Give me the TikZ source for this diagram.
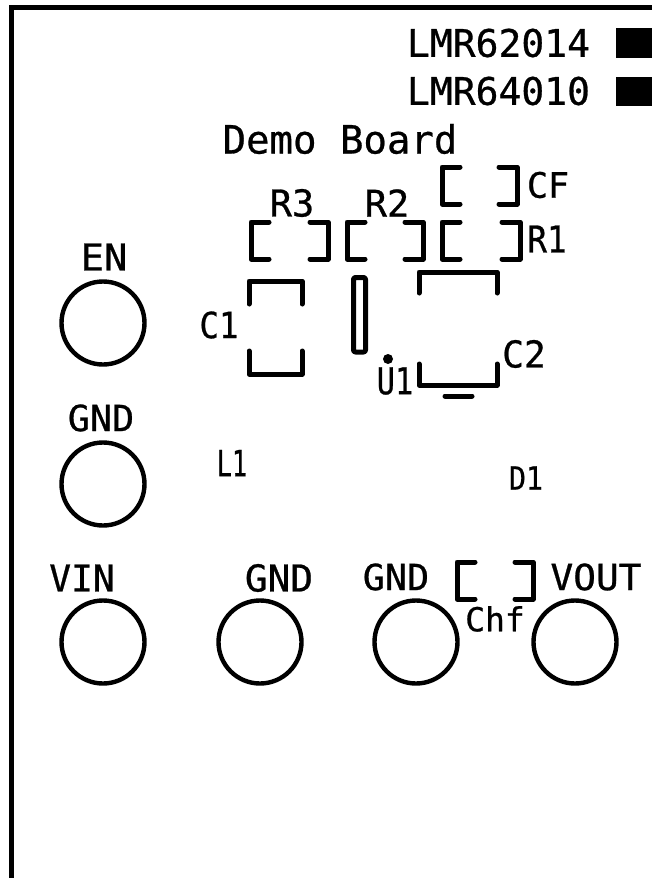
\documentclass[tikz,border=0pt]{standalone}
\usepackage{graphicx}
\usepackage{fontspec}
\setmainfont[BoldFont={DejaVu Sans Mono},BoldFeatures={FakeBold=0.7}]{DejaVu Sans Mono}
\newcommand{\lbl}[6]{\node[silk,font=\bfseries\fontsize{#4}{#4}\selectfont] (#1) at (#2,#3) {\scalebox{#5}[1]{#6}};}
\tikzset{
  x=1pt,y=-1pt,
  silk/.style={inner sep=0pt,outer sep=0pt,text=black},
  trace/.style={draw=black,line width=5pt,line cap=round,line join=round},
  pad/.style={draw=black,line width=4.4pt},
}
\newcommand{\brk}[3]{% left x, right x, top y; 37 high
  \draw[trace] (#1+18,#3) -- (#1,#3) -- (#1,#3+37) -- (#1+18,#3+37);
  \draw[trace] (#2-18,#3) -- (#2,#3) -- (#2,#3+37) -- (#2-18,#3+37);
}
\begin{document}
\begin{tikzpicture}
\useasboundingbox (0,0) rectangle (652,878);
\fill[white] (0,0) rectangle (652,878);
% board outline
\draw[black,line width=5pt] (11.5,878) -- (11.5,7.5) -- (652,7.5);
% marker squares
\fill[black] (616,28) rectangle (652,58);
\fill[black] (616,77) rectangle (652,106);
% labels
\lbl{a}{498.5}{43}{38}{1}{LMR62014}
\lbl{b}{498.5}{91}{38}{1}{LMR64010}
\lbl{c}{340}{139}{39}{1}{Demo Board}
\lbl{r3}{292}{203}{37}{1}{R3}
\lbl{r2}{387}{203}{37}{1}{R2}
\lbl{cf}{548}{185}{35}{1}{CF}
\lbl{r1}{547}{239}{37}{.88}{R1}
\lbl{en}{104}{257}{37}{1.05}{EN}
\lbl{c1}{219}{325}{36}{.9}{C1}
\lbl{u1}{395}{381}{37}{.82}{U1}
\lbl{c2}{524}{354}{37}{.98}{C2}
\lbl{g1}{101}{418}{36}{1.02}{GND}
\lbl{l1}{232}{463}{36}{.7}{L1}
\lbl{d1}{526}{478}{32}{.88}{D1}
\lbl{vin}{82}{578}{37}{.98}{VIN}
\lbl{g2}{279}{578}{37}{1.02}{GND}
\lbl{g3}{396}{577}{36}{1.02}{GND}
\lbl{vout}{596}{577}{36}{1.05}{VOUT}
\lbl{chf}{495}{619}{33}{1}{Chf}
% pads
\draw[pad] (103,323) circle (41.5);
\draw[pad] (103,484) circle (41.5);
\draw[pad] (103,642) circle (41.5);
\draw[pad] (260,642) circle (41.5);
\draw[pad] (416,642) circle (41.5);
\draw[pad] (575,642) circle (41.5);
% brackets
\brk{442}{517}{167}
\brk{251}{328}{222}
\brk{347}{423}{222}
\brk{442}{520}{222}
\brk{457}{533}{562}
% C1
\draw[trace] (249,304) -- (249,281) -- (302,281) -- (302,304);
\draw[trace] (249,351) -- (249,374) -- (302,374) -- (302,351);
% slot
\draw[trace,rounded corners=2pt] (353.5,277.5) rectangle (365.5,352);
% U1
\draw[trace] (419,293) -- (419,272) -- (497,272) -- (497,293);
\draw[trace] (419,364) -- (419,385) -- (497,385) -- (497,364);
\draw[trace] (445,396) -- (472,396);
\fill[black] (388,359) circle (5);
\end{tikzpicture}
\end{document}
